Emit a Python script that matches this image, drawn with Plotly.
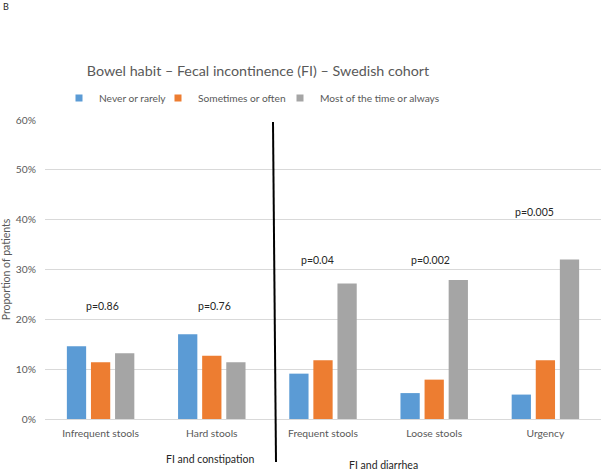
import plotly.graph_objects as go

categories = ["Infrequent stools", "Hard stools", "Frequent stools", "Loose stools", "Urgency"]
never_rarely = [0.146, 0.170, 0.091, 0.052, 0.049]
sometimes_often = [0.114, 0.127, 0.118, 0.079, 0.118]
most_always = [0.132, 0.114, 0.272, 0.279, 0.320]
series_names = ["Never or rarely", "Sometimes or often", "Most of the time or always"]
colors = ["#5B9BD5", "#ED7D31", "#A5A5A5"]
p_values = ["p=0.86", "p=0.76", "p=0.04", "p=0.002", "p=0.005"]
p_heights = [0.226, 0.226, 0.319, 0.319, 0.415]
y_ticks = [0, 0.1, 0.2, 0.3, 0.4, 0.5, 0.6]

# styling only: label nudges and legend entry positions (px)
p_label_shift = [2, 3, -6, -4, -11]
legend_text_x = [94, 193, 315]

FONT = "Lato"
GRAY = "#595959"
DARK = "#262626"

W, H = 602, 470
ML, MR, MT, MB = 45, 1, 120, 51

def px_x(px):
    return (px - ML) / (W - ML - MR)

def px_y(py):
    return (H - MB - py) / (H - MT - MB)

fig = go.Figure()
for name, vals, c in zip(series_names, [never_rarely, sometimes_often, most_always], colors):
    fig.add_trace(go.Bar(x=categories, y=vals, name=name, showlegend=False,
                         marker=dict(color=c, line=dict(width=0))))
# legend entries with small square markers, one legend per entry
legend_ids = ["legend", "legend2", "legend3"]
for name, c, lid in zip(series_names, colors, legend_ids):
    fig.add_trace(go.Scatter(x=[None], y=[None], mode="markers", name=name, legend=lid,
                             marker=dict(symbol="square", size=7, color=c)))

for cat, p, h, s in zip(categories, p_values, p_heights, p_label_shift):
    fig.add_annotation(x=cat, y=h, text=p, showarrow=False, xref="x", yref="y",
                       font=dict(family=FONT, size=10.5, color=DARK), xshift=s)

legend_common = dict(orientation="h", xref="container", xanchor="left",
                     yref="container", y=1 - 98 / H, yanchor="middle",
                     font=dict(family=FONT, size=10.2, color=GRAY),
                     itemwidth=30, bgcolor="rgba(0,0,0,0)")

fig.update_layout(
    width=W, height=H,
    paper_bgcolor="white", plot_bgcolor="white",
    margin=dict(l=ML, r=MR, t=MT, b=MB),
    barmode="group", bargap=0.35, bargroupgap=0.2,
    font=dict(family=FONT, color=GRAY),
    title=dict(text="Bowel habit – Fecal incontinence (FI) – Swedish cohort",
               x=258 / W, xanchor="center", y=1 - 71 / H, yanchor="middle",
               font=dict(family=FONT, size=14.3, color=GRAY)),
    legend=dict(x=(legend_text_x[0] - 35) / W, **legend_common),
    legend2=dict(x=(legend_text_x[1] - 35) / W, **legend_common),
    legend3=dict(x=(legend_text_x[2] - 35) / W, **legend_common),
    showlegend=True,
    xaxis=dict(showgrid=False, showline=True, linecolor="#D9D9D9", ticks="",
               ticklabelstandoff=5,
               tickfont=dict(family=FONT, size=10.3, color=GRAY)),
    yaxis=dict(range=[0, 0.6], tickvals=y_ticks, tickformat=".0%", showgrid=True,
               gridcolor="#D9D9D9", zeroline=False, showline=False,
               ticklabelstandoff=8,
               tickfont=dict(family=FONT, size=10.3, color=GRAY),
               title=dict(text="Proportion of patients", font=dict(family=FONT, size=10.5, color=GRAY),
                          standoff=4)),
)

fig.add_annotation(x=px_x(164), y=px_y(459), xref="paper", yref="paper", text="FI and constipation",
                   yanchor="middle", showarrow=False, font=dict(family=FONT, size=10.5, color=DARK))
fig.add_annotation(x=px_x(420), y=px_y(465), xref="paper", yref="paper", text="FI and diarrhea",
                   yanchor="middle", showarrow=False, font=dict(family=FONT, size=10.5, color=DARK))
fig.add_annotation(x=px_x(1), y=px_y(6), xref="paper", yref="paper", text="B",
                   xanchor="left", yanchor="middle", showarrow=False,
                   font=dict(family=FONT, size=9, color=DARK))

fig.add_shape(type="line", xref="paper", yref="paper", x0=px_x(273), x1=px_x(276),
              y0=px_y(122), y1=px_y(462), line=dict(color="black", width=2))

fig.write_html("out.html", config={"displayModeBar": False},
               post_script="document.body.style.margin='0';")
